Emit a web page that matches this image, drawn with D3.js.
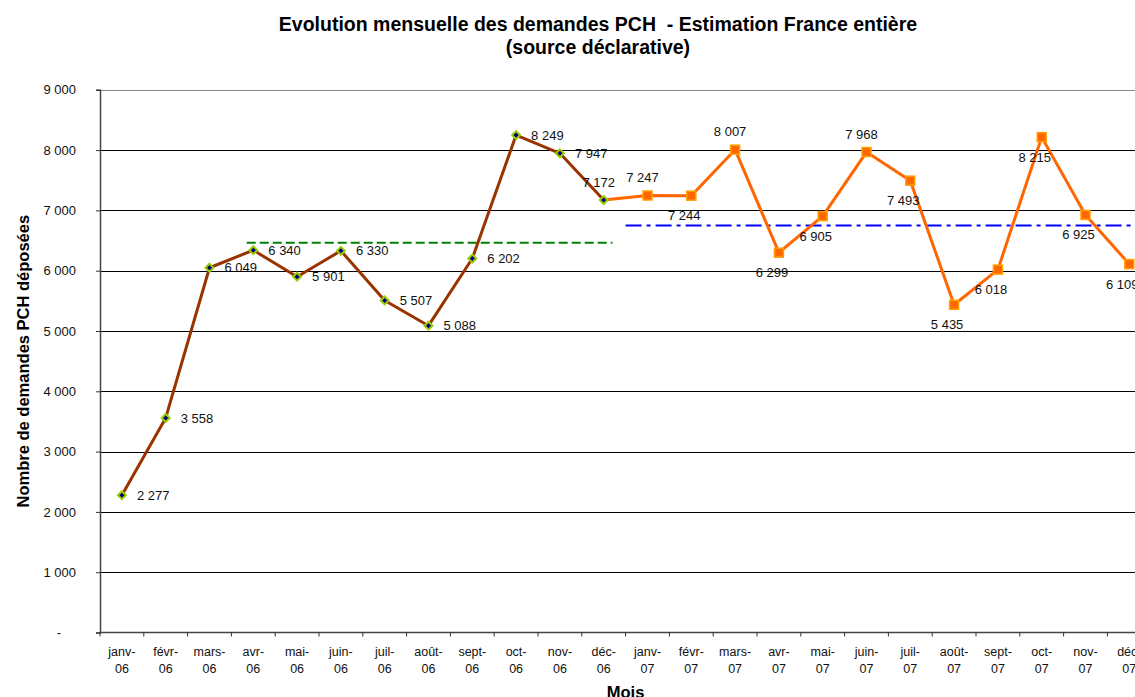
<!DOCTYPE html>
<html>
<head>
<meta charset="utf-8">
<script src="https://cdn.jsdelivr.net/npm/d3@7"></script>
<style>
  body { margin: 0; background: #fff; }
  svg { display: block; font-family: "Liberation Sans", Arial, sans-serif; }
</style>
</head>
<body>
<div id="chart"></div>
<script>
// data
var monthNames = ['janv-', 'févr-', 'mars-', 'avr-', 'mai-', 'juin-', 'juil-', 'août-', 'sept-', 'oct-', 'nov-', 'déc-'];
var years = ['06', '07'];
var values2006 = [2277, 3558, 6049, 6340, 5901, 6330, 5507, 5088, 6202, 8249, 7947, 7172];
var values2007 = [7247, 7244, 8007, 6299, 6905, 7968, 7493, 5435, 6018, 8215, 6925, 6109];
var yTicks = [0, 1000, 2000, 3000, 4000, 5000, 6000, 7000, 8000, 9000];

// reference lines: level and span in month positions
var mean2006 = {value: 6464, from: 3.35, to: 11.7};
var mean2007 = {value: 6750, from: 12, to: 24};

// where each data label sits relative to its point
var labelPlace2006 = ['right', 'right', 'right', 'right', 'right', 'right', 'right', 'right', 'right', 'right', 'right', 'above'];
var labelPlace2007 = ['above', 'below', 'above', 'below', 'below', 'above', 'below', 'below', 'below', 'below', 'below', 'below'];

var width = 1135, height = 697;
var margin = {top: 89.8, left: 100, bottom: 64.5};
var bandW = 43.8;

var categories = [];
years.forEach(function(yr) {
    monthNames.forEach(function(m) { categories.push(m + yr); });
});

var svg = d3.select('#chart')
    .append('svg')
        .attr('width', width)
        .attr('height', height);

var x = d3.scaleBand()
    .domain(categories)
    .range([margin.left, margin.left + bandW * categories.length])
    .padding(0);

// continuous position in month units, for the reference lines
var xPos = d3.scaleLinear()
    .domain([0, categories.length])
    .range([margin.left, margin.left + bandW * categories.length]);

var y = d3.scaleLinear()
    .domain([0, 9000])
    .range([height - margin.bottom, margin.top]);

var fmt = function(v) { return d3.format(',')(v).replace(/,/g, ' '); };
var cx = function(i) { return x(categories[i]) + x.bandwidth() / 2; };

// Title
var title = svg.append('text')
    .attr('x', 598)
    .attr('y', 31)
    .attr('text-anchor', 'middle')
    .attr('font-size', 19.5)
    .attr('font-weight', 'bold')
    .attr('fill', '#000')
    .style('white-space', 'pre');
title.append('tspan').attr('x', 598).text('Evolution mensuelle des demandes PCH  - Estimation France entière');
title.append('tspan').attr('x', 598).attr('dy', 23).text('(source déclarative)');

// gridlines
svg.append('g')
    .selectAll('line')
    .data(yTicks.filter(function(d) { return d > 0 && d < 9000; }))
    .enter().append('line')
        .attr('x1', margin.left)
        .attr('x2', width)
        .attr('y1', function(d) { return Math.round(y(d)) + 0.5; })
        .attr('y2', function(d) { return Math.round(y(d)) + 0.5; })
        .attr('stroke', '#000')
        .attr('stroke-width', 1);

// top border of plot area
svg.append('line')
    .attr('x1', margin.left).attr('x2', width)
    .attr('y1', Math.round(y(9000)) + 0.5).attr('y2', Math.round(y(9000)) + 0.5)
    .attr('stroke', '#888').attr('stroke-width', 1);

// Y axis
var yAxis = svg.append('g')
    .attr('transform', 'translate(' + margin.left + ',0)')
    .call(d3.axisLeft(y)
        .tickValues(yTicks)
        .tickSize(4)
        .tickPadding(20)
        .tickFormat(function(d) { return d === 0 ? '-' : fmt(d); }));
yAxis.select('.domain').attr('stroke', '#444').attr('stroke-width', 1.5);
yAxis.selectAll('.tick line').attr('stroke', '#333');
yAxis.selectAll('.tick text')
    .attr('font-size', 13)
    .attr('font-family', '"Liberation Sans", Arial, sans-serif')
    .attr('fill', '#111');
yAxis.selectAll('.tick').filter(function(d) { return d === 0; }).select('text').attr('dx', -15);

svg.append('text')
    .attr('transform', 'translate(29,' + ((y(0) + y(9000)) / 2) + ') rotate(-90)')
    .attr('text-anchor', 'middle')
    .attr('font-size', 16.5)
    .attr('font-weight', 'bold')
    .text('Nombre de demandes PCH déposées');

// X axis
var xAxis = svg.append('g')
    .attr('transform', 'translate(0,' + y(0) + ')');
xAxis.append('line')
    .attr('x1', margin.left).attr('x2', width)
    .attr('y1', 0).attr('y2', 0)
    .attr('stroke', '#444').attr('stroke-width', 1.5);
xAxis.selectAll('.xtick')
    .data(d3.range(categories.length + 1))
    .enter().append('line')
        .attr('x1', function(i) { return xPos(i); })
        .attr('x2', function(i) { return xPos(i); })
        .attr('y1', 0).attr('y2', 4)
        .attr('stroke', '#333');
var xLabels = xAxis.selectAll('.xlab')
    .data(categories)
    .enter().append('text')
        .attr('text-anchor', 'middle')
        .attr('font-size', 12.5)
        .attr('fill', '#111');
xLabels.append('tspan')
    .attr('x', function(d) { return x(d) + x.bandwidth() / 2; })
    .attr('y', 23.5)
    .text(function(d) { return d.slice(0, -2); });
xLabels.append('tspan')
    .attr('x', function(d) { return x(d) + x.bandwidth() / 2; })
    .attr('y', 40.5)
    .text(function(d) { return d.slice(-2); });

svg.append('text')
    .attr('x', (margin.left + margin.left + bandW * categories.length) / 2)
    .attr('y', 698)
    .attr('text-anchor', 'middle')
    .attr('font-size', 16.5)
    .attr('font-weight', 'bold')
    .text('Mois');

// reference lines
svg.append('line')
    .attr('x1', xPos(mean2006.from)).attr('x2', xPos(mean2006.to))
    .attr('y1', y(mean2006.value)).attr('y2', y(mean2006.value))
    .attr('stroke', '#008000')
    .attr('stroke-width', 2)
    .attr('stroke-dasharray', '9 4');

svg.append('line')
    .attr('x1', xPos(mean2007.from)).attr('x2', xPos(mean2007.to))
    .attr('y1', y(mean2007.value)).attr('y2', y(mean2007.value))
    .attr('stroke', '#0000ff')
    .attr('stroke-width', 2)
    .attr('stroke-dasharray', '16 5 4 5');

// 2007 series, joined to the last 2006 point
var pts2007 = values2007.map(function(v, i) { return {i: i + 12, v: v}; });
var line2007 = [{i: 11, v: values2006[11]}].concat(pts2007);
var pts2006 = values2006.map(function(v, i) { return {i: i, v: v}; });

var line = d3.line()
    .x(function(d) { return cx(d.i); })
    .y(function(d) { return y(d.v); });

svg.append('path')
    .datum(line2007)
    .attr('fill', 'none')
    .attr('stroke', '#ff6600')
    .attr('stroke-width', 3)
    .attr('stroke-linejoin', 'round')
    .attr('d', line);

svg.append('path')
    .datum(pts2006)
    .attr('fill', 'none')
    .attr('stroke', '#993300')
    .attr('stroke-width', 3)
    .attr('stroke-linejoin', 'round')
    .attr('d', line);

// markers
svg.append('g')
    .selectAll('rect')
    .data(pts2007)
    .enter().append('rect')
        .attr('x', function(d) { return cx(d.i) - 4.5; })
        .attr('y', function(d) { return y(d.v) - 4.5; })
        .attr('width', 9)
        .attr('height', 9)
        .attr('fill', '#ff6600')
        .attr('stroke', '#ffa000')
        .attr('stroke-width', 1.5);

svg.append('g')
    .selectAll('path')
    .data(pts2006)
    .enter().append('path')
        .attr('transform', function(d) { return 'translate(' + cx(d.i) + ',' + y(d.v) + ')'; })
        .attr('d', d3.symbol().type(d3.symbolDiamond2).size(40))
        .attr('fill', '#000080')
        .attr('stroke', '#99cc00')
        .attr('stroke-width', 2);

// data labels
var placeOffset = {
    right: {dx: 15, dy: 0, anchor: 'start'},
    above: {dx: -5, dy: -18, anchor: 'middle'},
    below: {dx: -7, dy: 20, anchor: 'middle'}
};

function addLabels(pts, places) {
    svg.append('g')
        .selectAll('text')
        .data(pts)
        .enter().append('text')
            .attr('x', function(d, k) { return cx(d.i) + placeOffset[places[k]].dx; })
            .attr('y', function(d, k) { return y(d.v) + placeOffset[places[k]].dy; })
            .attr('dy', '0.35em')
            .attr('text-anchor', function(d, k) { return placeOffset[places[k]].anchor; })
            .attr('font-size', 13)
            .attr('fill', '#111')
            .text(function(d) { return fmt(d.v); });
}
addLabels(pts2006, labelPlace2006);
addLabels(pts2007, labelPlace2007);
</script>
</body>
</html>
